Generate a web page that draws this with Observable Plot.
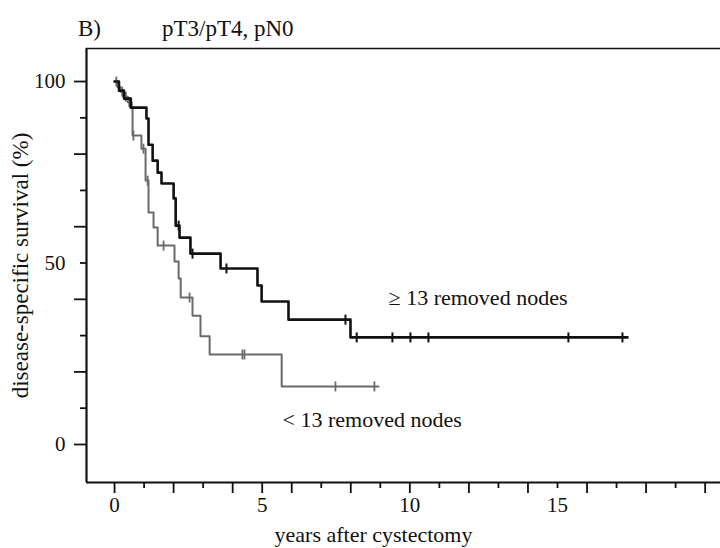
<!DOCTYPE html>
<html>
<head>
<meta charset="utf-8">
<script src="https://cdn.jsdelivr.net/npm/d3@7"></script>
<script src="https://cdn.jsdelivr.net/npm/@observablehq/plot@0.6"></script>
<style>
  html, body { margin: 0; padding: 0; background: #fff; }
  #wrap { position: relative; width: 720px; height: 548px; overflow: hidden; font-family: "Liberation Serif", "DejaVu Serif", serif; color: #111; background: #fff; }
  .ttl { position: absolute; top: 18px; font-size: 23px; line-height: 22px; white-space: nowrap; z-index: 2; }
  #chart { position: absolute; left: 0; top: 0; z-index: 1; }
</style>
</head>
<body>
<div id="wrap">
  <div id="chart"></div>
  <div class="ttl" style="left:78px">B)</div>
  <div class="ttl" style="left:162px">pT3/pT4, pN0</div>
</div>
<script>
// ≥ 13 removed nodes (black)
const blackTimes = [0, 0.15, 0.32, 0.55, 1.08, 1.15, 1.29, 1.46, 1.59, 2.0, 2.07, 2.2, 2.57, 3.59, 4.84, 4.98, 5.89, 7.99];
const blackSurv  = [100, 97.5, 95.3, 92.8, 89.8, 82.6, 78.2, 74.9, 71.9, 67.8, 60.3, 57.0, 52.6, 48.5, 43.8, 39.4, 34.4, 29.5];
const blackEnd = 17.37;
const blackCensored = [2.17, 2.64, 3.79, 7.82, 8.2, 9.41, 10.02, 10.63, 15.37, 17.2];

// < 13 removed nodes (grey)
const greyTimes = [0, 0.1, 0.2, 0.32, 0.45, 0.58, 0.61, 0.91, 1.05, 1.15, 1.32, 1.46, 2.03, 2.17, 2.24, 2.64, 2.91, 3.22, 5.66];
const greySurv  = [100, 98.5, 97.2, 95.8, 94.3, 92.8, 85.1, 81.5, 72.7, 63.9, 59.8, 54.8, 50.4, 45.7, 40.5, 35.5, 29.8, 24.8, 16.0];
const greyEnd = 8.94;
const greyCensored = [0.06, 0.15, 0.26, 0.38, 0.5, 0.64, 0.98, 1.12, 1.66, 2.54, 4.33, 4.4, 7.48, 8.8];

const groupNames = ["≥ 13 removed nodes", "< 13 removed nodes"];
const labelTimes = [9.28, 5.69];
const labelSurv = [38.5, 4.9];

const xTicksMajor = [0, 2, 4, 5, 6, 8, 10, 12, 14, 16, 18, 20];
const xTicksMinor = [1, 3, 7, 9, 11, 13, 15, 17, 19];
const xTickLabels = [0, 5, 10, 15];
const yTicksMajor = [0, 20, 40, 60, 80, 100];
const yTicksMinor = [10, 30, 50, 70, 90];
const yTickLabels = [0, 50, 100];

function stepRows(times, surv, end, g) {
  const rows = times.map((t, i) => ({t, s: surv[i], g}));
  rows.push({t: end, s: surv[surv.length - 1], g});
  return rows;
}
function censorRows(cens, times, surv, g) {
  return cens.map(c => {
    let k = 0;
    for (let i = 0; i < times.length; i++) if (times[i] <= c) k = i;
    return {t: c, s: surv[k], g};
  });
}
const blackRows = stepRows(blackTimes, blackSurv, blackEnd, groupNames[0]);
const greyRows = stepRows(greyTimes, greySurv, greyEnd, groupNames[1]);
const blackCens = censorRows(blackCensored, blackTimes, blackSurv, groupNames[0]);
const greyCens = censorRows(greyCensored, greyTimes, greySurv, groupNames[1]);
const labels = groupNames.map((n, i) => ({t: labelTimes[i], s: labelSurv[i], n}));

const vbar = {
  draw(ctx, size) {
    const r = Math.sqrt(size / Math.PI);
    ctx.moveTo(0, -r);
    ctx.lineTo(0, r);
  }
};

const ink = "#111";
const greyInk = "#6a6a6a";

const chart = Plot.plot({
  width: 720,
  height: 548,
  marginLeft: 86,
  marginRight: 0,
  marginTop: 48,
  marginBottom: 66,
  style: {fontFamily: "Liberation Serif, serif", fontSize: "21px", color: ink, background: "transparent"},
  x: {domain: [-0.95, 20.52]},
  y: {domain: [-10.47, 109.1]},
  marks: [
    Plot.axisX({ticks: xTicksMajor, tickSize: 11, strokeWidth: 1.8, fill: "none", label: null}),
    Plot.axisX({ticks: xTicksMinor, tickSize: 6, strokeWidth: 1.8, fill: "none", label: null}),
    Plot.axisX({ticks: xTickLabels, tickSize: 0, tickPadding: 15, fontSize: 21, label: null}),
    Plot.axisY({ticks: yTicksMajor, tickSize: 12, strokeWidth: 1.8, fill: "none", label: null}),
    Plot.axisY({ticks: yTicksMinor, tickSize: 6, strokeWidth: 1.8, fill: "none", label: null}),
    Plot.axisY({ticks: yTickLabels, tickSize: 0, tickPadding: 21, fontSize: 21, label: null}),
    Plot.ruleX([-0.95], {stroke: ink, strokeWidth: 2.2}),
    Plot.ruleY([-10.47], {stroke: ink, strokeWidth: 2.2}),
    Plot.ruleY([109.1], {stroke: ink, strokeWidth: 1.6}),
    Plot.line(greyRows, {x: "t", y: "s", curve: "step-after", stroke: greyInk, strokeWidth: 2}),
    Plot.dot(greyCens, {x: "t", y: "s", symbol: vbar, r: 5, fill: "none", stroke: greyInk, strokeWidth: 1.8}),
    Plot.line(blackRows, {x: "t", y: "s", curve: "step-after", stroke: ink, strokeWidth: 2.6}),
    Plot.dot(blackCens, {x: "t", y: "s", symbol: vbar, r: 5, fill: "none", stroke: ink, strokeWidth: 2}),
    Plot.text(labels, {x: "t", y: "s", text: "n", textAnchor: "start", lineAnchor: "bottom", fontSize: 22, fill: ink}),
    Plot.text(["disease-specific survival (%)"], {frameAnchor: "left", dx: -66, rotate: -90, textAnchor: "middle", fontSize: 23, fill: ink}),
    Plot.text(["years after cystectomy"], {frameAnchor: "bottom", dx: -30, dy: 52, lineAnchor: "middle", textAnchor: "middle", fontSize: 22, fill: ink})
  ]
});
document.getElementById("chart").appendChild(chart);
</script>
</body>
</html>
